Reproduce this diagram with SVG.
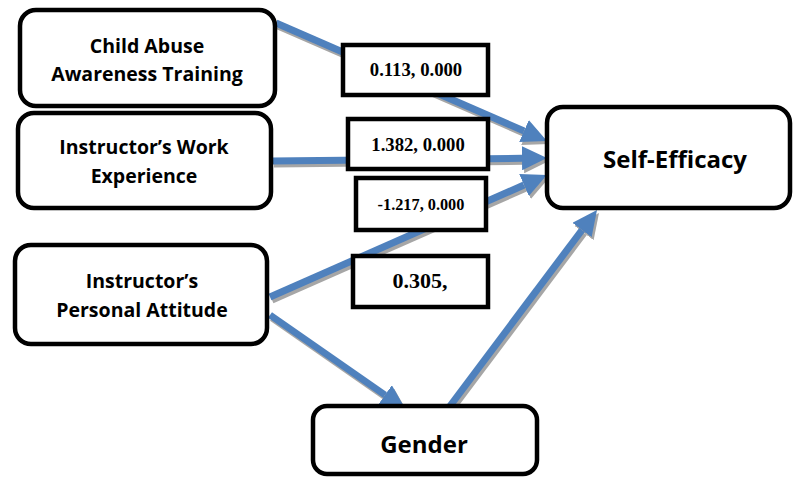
<svg xmlns="http://www.w3.org/2000/svg" width="793" height="477" viewBox="0 0 793 477">
<style>
.node{fill:#fff;stroke:#000;stroke-width:4.5}
.lbl{fill:#fff;stroke:#000;stroke-width:4.5}
.nt{font-family:"Open Sans","Liberation Sans",sans-serif;font-weight:bold;font-size:19.5px;text-anchor:middle;fill:#000}
.big{font-size:24px}
.lt{font-family:"Liberation Serif","Times New Roman",serif;font-weight:bold;font-size:18.7px;text-anchor:middle;fill:#000}
.arr{stroke:#4F81BD;stroke-width:7;fill:none;marker-end:url(#hb)}
.sh{stroke:#A6A6A6;stroke-width:7;fill:none;marker-end:url(#hg)}
</style>
<defs>
<marker id="hb" markerUnits="userSpaceOnUse" viewBox="0 -12 25 24" refX="0" refY="0" markerWidth="25" markerHeight="24" orient="auto"><path d="M0,-12 L25,0 L0,12 z" fill="#4F81BD"/></marker>
<marker id="hg" markerUnits="userSpaceOnUse" viewBox="0 -12 25 24" refX="0" refY="0" markerWidth="25" markerHeight="24" orient="auto"><path d="M0,-12 L25,0 L0,12 z" fill="#A6A6A6"/></marker>
</defs>
<g id="connectors">
<g transform="translate(2,3)">
<line class="sh" x1="276" y1="23" x2="524" y2="131"/>
<line class="sh" x1="272" y1="161" x2="522" y2="158.3"/>
<line class="sh" x1="270" y1="297" x2="524" y2="185"/>
<line class="sh" x1="270" y1="315" x2="385" y2="395"/>
<line class="sh" x1="450" y1="406" x2="582" y2="230"/>
</g>
<line class="arr" x1="276" y1="23" x2="524" y2="131"/>
<line class="arr" x1="272" y1="161" x2="522" y2="158.3"/>
<line class="arr" x1="270" y1="297" x2="524" y2="185"/>
<line class="arr" x1="270" y1="315" x2="385" y2="395"/>
<line class="arr" x1="450" y1="406" x2="582" y2="230"/>
</g>
<g id="n1"><rect class="node" x="20" y="10" width="255" height="96" rx="16"/><text class="nt" x="147" y="53">Child Abuse</text><text class="nt" x="147" y="81">Awareness Training</text></g>
<g id="n2"><rect class="node" x="18" y="113" width="253" height="95" rx="16"/><text class="nt" x="144" y="154">Instructor’s Work</text><text class="nt" x="144" y="183">Experience</text></g>
<g id="n3"><rect class="node" x="15" y="245" width="252" height="99" rx="16"/><text class="nt" x="142" y="288">Instructor’s</text><text class="nt" x="142" y="317">Personal Attitude</text></g>
<g id="n4"><rect class="node" x="547" y="107" width="243" height="101" rx="16"/><text class="nt big" x="675" y="168">Self-Efficacy</text></g>
<g id="n5"><rect class="node" x="313" y="406" width="224" height="68" rx="14"/><text class="nt big" x="424" y="453">Gender</text></g>
<g id="l1"><rect class="lbl" x="343" y="45" width="145" height="50"/><text class="lt" x="416" y="76">0.113, 0.000</text></g>
<g id="l2"><rect class="lbl" x="348" y="119" width="140" height="50"/><text class="lt" x="418" y="151">1.382, 0.000</text></g>
<g id="l3"><rect class="lbl" x="356" y="178" width="130" height="52"/><text class="lt" x="421" y="210" style="font-size:16.3px">-1.217, 0.000</text></g>
<g id="l4"><rect class="lbl" x="353" y="256" width="135" height="51"/><text class="lt" x="420" y="288" style="font-size:22px">0.305,</text></g>
</svg>
